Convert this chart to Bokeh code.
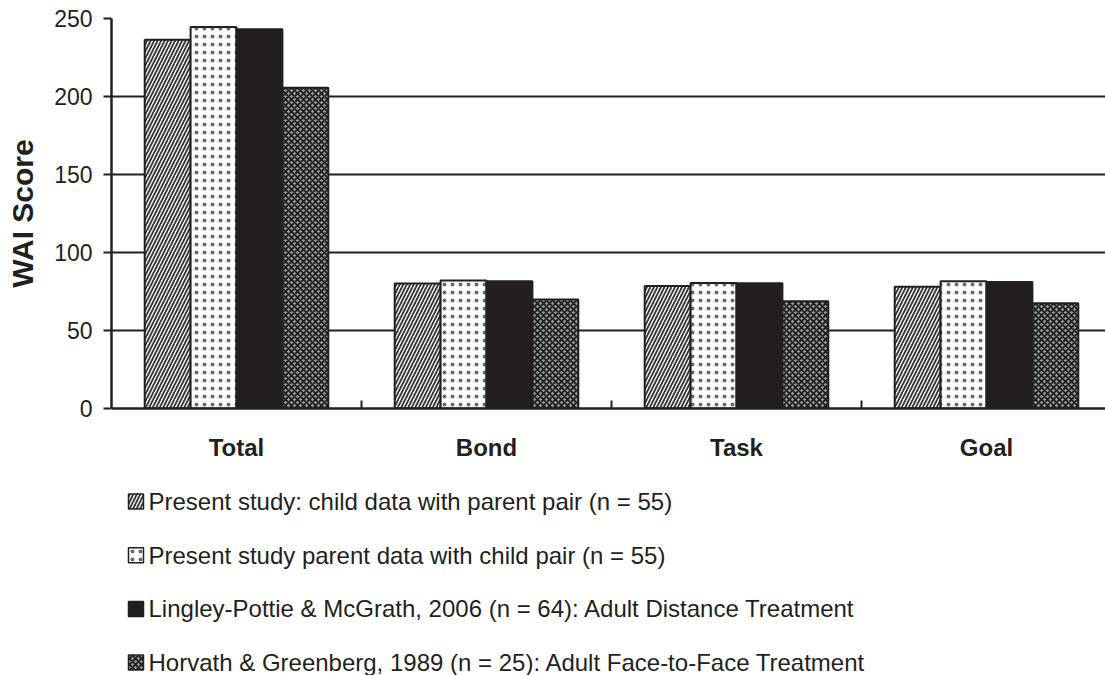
from bokeh.plotting import figure
from bokeh.layouts import column
from bokeh.models import ColumnDataSource, Range1d, FixedTicker
from bokeh.core.properties import value
from bokeh.embed import file_html
from bokeh.resources import INLINE

# WAI subscale scores by study
categories = ["Total", "Bond", "Task", "Goal"]
child_with_parent = [236.4, 80.2, 78.6, 78.1]
parent_with_child = [244.5, 82.0, 80.5, 81.5]
lingley_pottie = [243.1, 81.5, 80.3, 81.1]
horvath_greenberg = [205.6, 69.8, 68.7, 67.4]

series_labels = [
    "Present study: child data with parent pair (n = 55)",
    "Present study parent data with child pair (n = 55)",
    "Lingley-Pottie & McGrath, 2006 (n = 64): Adult Distance Treatment",
    "Horvath & Greenberg, 1989 (n = 25): Adult Face-to-Face Treatment",
]
y_ticks = [0, 50, 100, 150, 200, 250]

INK = "#231f20"
FONT = "Liberation Sans"
LEFT = 111

p = figure(width=1105, height=475, output_backend="svg", toolbar_location=None,
           x_range=Range1d(0, 3.976), y_range=Range1d(0, 250),
           min_border_left=LEFT, min_border_right=0, min_border_top=18,
           min_border_bottom=67)
p.outline_line_color = None
p.background_fill_color = "white"
p.border_fill_color = "white"

centers = [i + 0.5 for i in range(len(categories))]
bar_w = 0.1836
offsets = [-1.5 * bar_w, -0.5 * bar_w, 0.5 * bar_w, 1.5 * bar_w]

styles = [
    dict(fill_color="white", hatch_pattern="right_diagonal_line", hatch_color="#333333",
         hatch_scale=7, hatch_weight=1.8),
    dict(fill_color="white", hatch_pattern="dot", hatch_color="#6a6a6a",
         hatch_scale=8, hatch_weight=0.8),
    dict(fill_color=INK),
    dict(fill_color="#9a9a9a", hatch_pattern="diagonal_cross", hatch_color="#1c1c1c",
         hatch_scale=6, hatch_weight=1.8),
]

series = [child_with_parent, parent_with_child, lingley_pottie, horvath_greenberg]
for vals, off, st in zip(series, offsets, styles):
    src = ColumnDataSource(dict(x=[c + off for c in centers], top=vals))
    p.vbar(x="x", top="top", bottom=0, width=bar_w, source=src,
           line_color=INK, line_width=2, **st)

# y axis and gridlines
p.yaxis.ticker = FixedTicker(ticks=y_ticks)
p.yaxis.axis_line_color = INK
p.yaxis.axis_line_width = 2.5
p.yaxis.major_tick_line_color = INK
p.yaxis.major_tick_line_width = 2
p.yaxis.major_tick_in = 0
p.yaxis.major_tick_out = 8
p.yaxis.minor_tick_line_color = None
p.yaxis.major_label_text_font = FONT
p.yaxis.major_label_text_font_size = "23px"
p.yaxis.major_label_text_color = INK
p.yaxis.major_label_standoff = 11
p.yaxis.axis_label = "WAI Score"
p.yaxis.axis_label_text_font = FONT
p.yaxis.axis_label_text_font_style = "bold"
p.yaxis.axis_label_text_font_size = "30px"
p.yaxis.axis_label_text_color = INK
p.yaxis.axis_label_standoff = 12

p.ygrid.ticker = FixedTicker(ticks=y_ticks)
p.ygrid.grid_line_color = INK
p.ygrid.grid_line_width = 2
p.xgrid.grid_line_color = None

# x axis: category names at group centres, small ticks between groups
p.xaxis.ticker = FixedTicker(ticks=centers, minor_ticks=[1, 2, 3])
p.xaxis.major_label_overrides = {c: name for c, name in zip(centers, categories)}
p.xaxis.axis_line_color = INK
p.xaxis.axis_line_width = 2.5
p.xaxis.major_tick_line_color = None
p.xaxis.minor_tick_line_color = INK
p.xaxis.minor_tick_line_width = 2
p.xaxis.minor_tick_in = 8
p.xaxis.minor_tick_out = 0
p.xaxis.major_label_text_font = FONT
p.xaxis.major_label_text_font_style = "bold"
p.xaxis.major_label_text_font_size = "24px"
p.xaxis.major_label_text_color = INK
p.xaxis.major_label_standoff = 19

# key underneath the chart: a pixel-scaled panel, one series per row
lg = figure(width=1105, height=200, output_backend="svg", toolbar_location=None,
            x_range=Range1d(LEFT, 1105), y_range=Range1d(200, 0),
            min_border_left=LEFT, min_border_right=0, min_border_top=0, min_border_bottom=0)
lg.axis.visible = False
lg.grid.visible = False
lg.outline_line_color = None
lg.border_fill_color = "white"
lg.background_fill_color = "white"

row_y = [26 + 53.7 * i for i in range(len(series_labels))]
for y, st in zip(row_y, styles):
    lg.rect(x=[135.5], y=[y], width=15, height=15, line_color=INK, line_width=1.5, **st)

lg.text(x=[148] * len(series_labels), y=row_y, text=series_labels,
        text_font=value(FONT), text_font_size="24px", text_color=INK,
        text_baseline="middle", text_align="left")

open("out.html", "w").write(file_html(column(p, lg, spacing=0), INLINE))
